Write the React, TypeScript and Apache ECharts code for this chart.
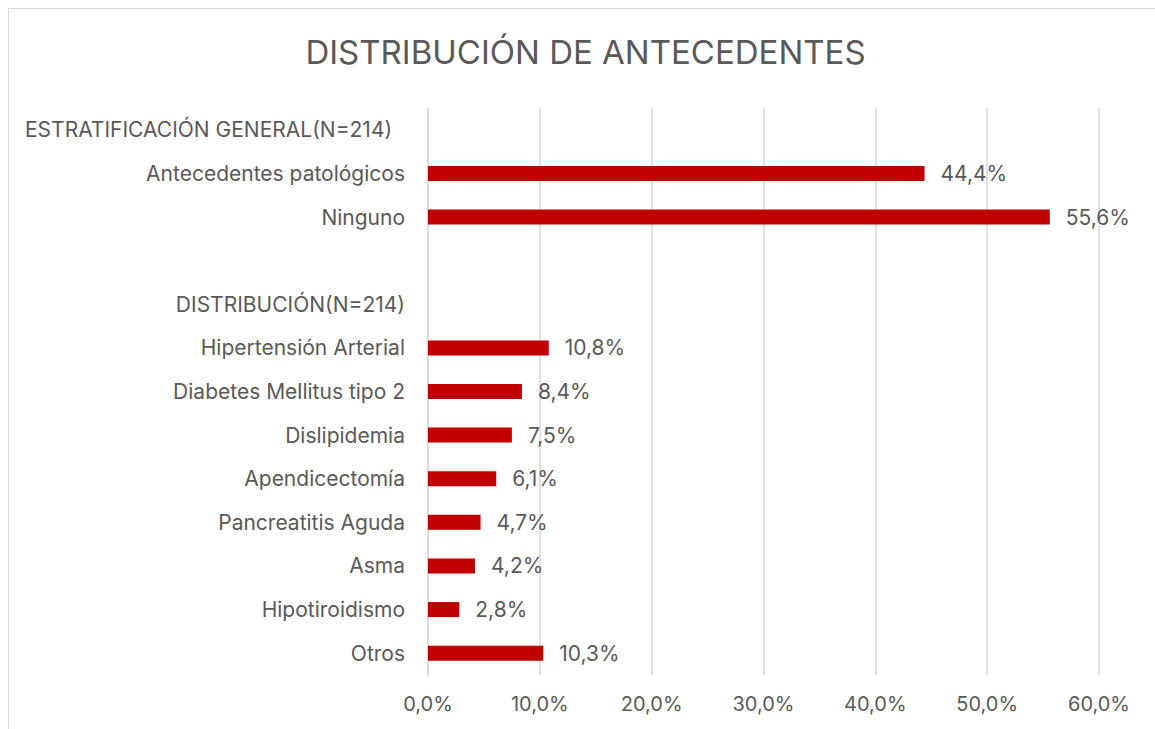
import React, { useEffect, useRef } from "react";
import * as echarts from "echarts";

const titleText = "DISTRIBUCIÓN DE ANTECEDENTES";
const categories = [
  "ESTRATIFICACIÓN GENERAL(N=214)",
  "Antecedentes patológicos",
  "Ninguno",
  "",
  "DISTRIBUCIÓN(N=214)",
  "Hipertensión Arterial",
  "Diabetes Mellitus tipo 2",
  "Dislipidemia",
  "Apendicectomía",
  "Pancreatitis Aguda",
  "Asma",
  "Hipotiroidismo",
  "Otros",
];
const values: (number | null)[] = [null, 44.4, 55.6, null, null, 10.8, 8.4, 7.5, 6.1, 4.7, 4.2, 2.8, 10.3];
const xTicks = { min: 0, max: 60, interval: 10 };

const FONT = "Inter, sans-serif";
const GRAY = "#595959";
const FS = 21;
const fmt = (v: number) => v.toFixed(1).replace(".", ",") + "%";

export default function App() {
  const ref = useRef<HTMLDivElement>(null);
  useEffect(() => {
    if (!ref.current) return;
    const chart = echarts.init(ref.current, undefined, { renderer: "svg" });
    chart.setOption({
      animation: false,
      textStyle: { fontFamily: FONT },
      title: {
        text: titleText,
        left: "center",
        top: 26,
        padding: 0,
        textStyle: { fontFamily: FONT, fontSize: 33, fontWeight: "normal", color: GRAY },
      },
      grid: { left: 419, right: 63, top: 99, bottom: 74 },
      xAxis: {
        type: "value",
        min: xTicks.min,
        max: xTicks.max,
        interval: xTicks.interval,
        axisLine: { show: false },
        axisTick: { show: false },
        splitLine: { show: true, lineStyle: { color: "#d9d9d9", width: 1.5 } },
        axisLabel: { formatter: (v: number) => fmt(v), fontSize: 20, color: GRAY, margin: 19, fontFamily: FONT },
      },
      yAxis: {
        type: "category",
        inverse: true,
        data: categories,
        axisLine: { show: true, lineStyle: { color: "#d9d9d9", width: 1.5 } },
        axisTick: { show: false },
        axisLabel: {
          fontSize: FS,
          color: GRAY,
          margin: 23,
          fontFamily: FONT,
          overflow: "none",
          formatter: (v: string, i: number) => (i === 0 ? `{h|${v}}` : v),
          rich: { h: { width: 380, align: "left", fontSize: FS, color: GRAY, fontFamily: FONT } },
        },
      },
      series: [
        {
          type: "bar",
          data: values,
          barWidth: 15,
          itemStyle: { color: "#C00000" },
          label: {
            show: true,
            position: "right",
            distance: 16,
            fontSize: FS,
            color: GRAY,
            fontFamily: FONT,
            formatter: (p: any) => (p.value == null ? "" : fmt(p.value)),
          },
        },
      ],
    });
    return () => chart.dispose();
  }, []);
  return (
    <div style={{ position: "fixed", left: 0, top: 0, width: 1155, height: 729, overflow: "hidden", background: "#fff" }}>
      <div
        ref={ref}
        style={{
          position: "absolute",
          left: 8,
          top: 8,
          width: 1153,
          height: 740,
          border: "1px solid #d9d9d9",
        }}
      />
    </div>
  );
}
